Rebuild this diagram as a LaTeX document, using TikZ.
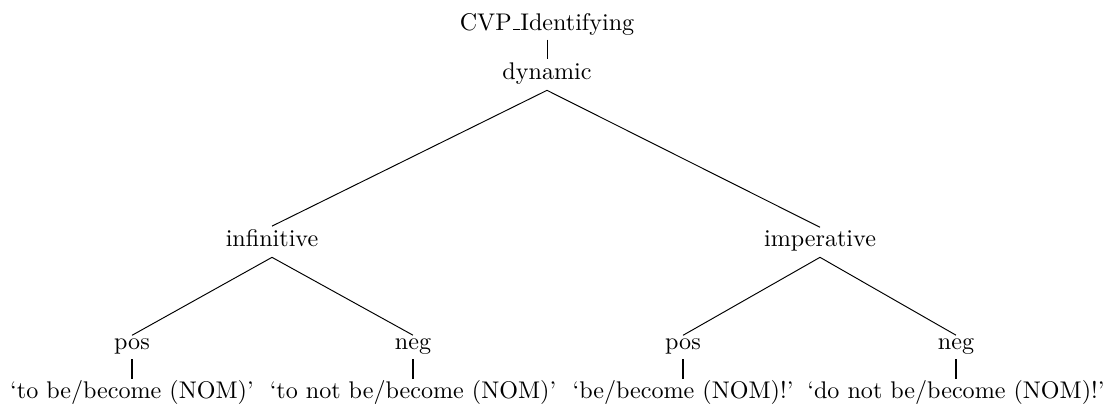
\documentclass[tikz,border=0pt]{standalone}
\usepackage{tikz}
\usetikzlibrary{positioning}
\newcommand{\usc}{\kern.06em\vbox{\hrule width.3em}}

\begin{document}
\begin{tikzpicture}[x=0.415pt,y=-0.415pt]
\tikzstyle{cat}=[anchor=base, inner sep=1pt, text depth=3.5pt]
\tikzstyle{gloss}=[anchor=base, inner sep=1pt, text height=6.8pt]
\tikzstyle{branch}=[thin, draw=black]
\tikzstyle{leaf}=[thick, draw=black]
\useasboundingbox (0,0) rectangle (1103,406);
	\node[cat, text depth=2.8pt] (root) at (547,30) {CVP\usc Identifying};
	\node[cat] (dyn) at (547,79) {dynamic};

	\node[cat] (inf) at (272,246) {infinitive};
	\node[cat] (imp) at (820,246) {imperative};

	\node[cat, text depth=3pt] (inf_pos) at (132,349) {pos};
	\node[cat, text depth=3pt] (inf_neg) at (413,349) {neg};
	\node[cat, text depth=3pt] (imp_pos) at (683,349) {pos};
	\node[cat, text depth=3pt] (imp_neg) at (956,349) {neg};

	\node[gloss] (inf_pos_g) at (132,398) {`to be/become (NOM)'};
	\node[gloss] (inf_neg_g) at (413,398) {`to not be/become (NOM)'};
	\node[gloss] (imp_pos_g) at (683,398) {`be/become (NOM)!'};
	\node[gloss] (imp_neg_g) at (956,398) {`do not be/become (NOM)!'};

	\path
		(root.south) edge [branch] (dyn.north)
		(dyn.south) edge [branch] (inf.north)
		(dyn.south) edge [branch] (imp.north)
		(inf.south) edge [branch] (inf_pos.north)
		(inf.south) edge [branch] (inf_neg.north)
		(imp.south) edge [branch] (imp_pos.north)
		(imp.south) edge [branch] (imp_neg.north)
		(inf_pos.south) edge [leaf] (inf_pos_g.north)
		(inf_neg.south) edge [leaf] (inf_neg_g.north)
		(imp_pos.south) edge [leaf] (imp_pos_g.north)
		(imp_neg.south) edge [leaf] (imp_neg_g.north);
\end{tikzpicture}
\end{document}
